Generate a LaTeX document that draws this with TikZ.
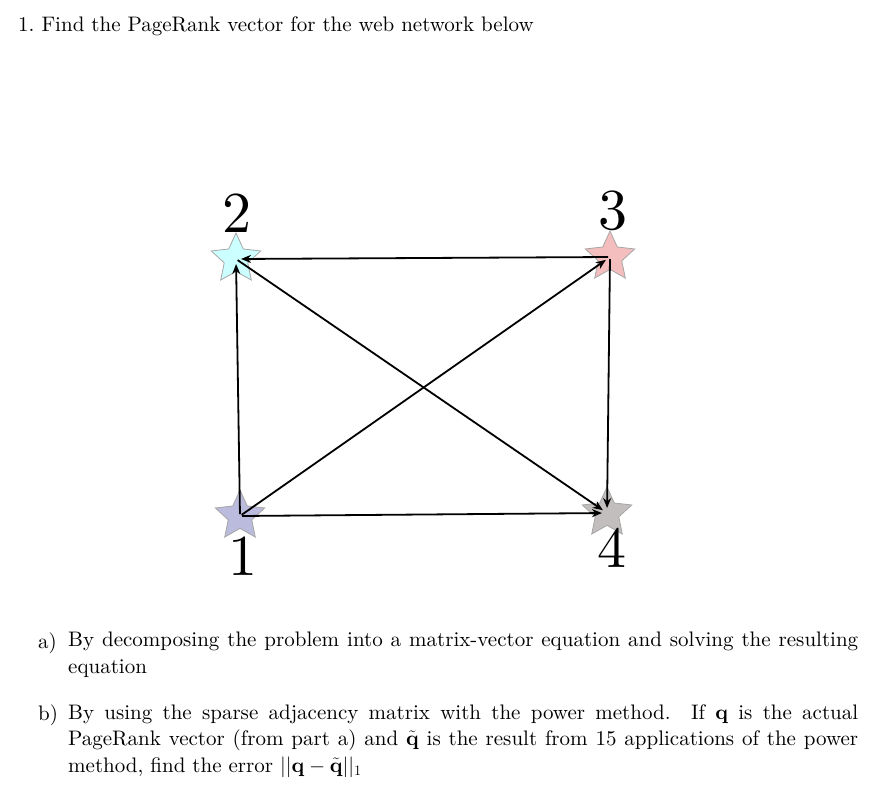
\documentclass[tikz,border=0pt]{standalone}
\usepackage{fontspec}
\setmainfont{lmroman10-regular.otf}[BoldFont=lmroman10-bold.otf,ItalicFont=lmroman10-italic.otf]
\usetikzlibrary{shapes.geometric,arrows.meta}
\definecolor{sone}{RGB}{187,187,221}
\definecolor{stwo}{RGB}{204,255,255}
\definecolor{sthree}{RGB}{244,190,190}
\definecolor{sfour}{RGB}{195,190,190}
\begin{document}
\begin{tikzpicture}[x=1pt,y=-1pt,
 st/.style={star,star points=5,star point ratio=2.1,minimum size=52pt,inner sep=0pt,draw=gray!70,line width=0.8pt},
 num/.style={font=\fontsize{58}{58}\selectfont,inner sep=0pt},
 ed/.style={line width=1.8pt,-{Stealth[length=10pt,width=8pt]},shorten >=5pt,shorten <=2pt},
 lab/.style={font=\fontsize{21}{26}\selectfont,anchor=base west,inner sep=0pt},
 txt/.style={font=\fontsize{21}{26.5}\selectfont,inner sep=0pt,anchor=north west,align=justify,text width=790pt}]
\useasboundingbox (0,0) rectangle (888,790);
\node[st,fill=stwo] (n2) at (236,259) {};
\node[st,fill=sthree] (n3) at (610,257) {};
\node[st,fill=sone] (n1) at (240,516) {};
\node[st,fill=sfour] (n4) at (607,513) {};
\node[num] (l2) at (237,213) {2};
\node[num] (l3) at (613,211) {3};
\node[num] (l1) at (243,556) {1};
\node[num] (l4) at (612,548) {4};
\draw[ed] (n1.center) -- (n2.center);
\draw[ed] (n1.center) -- (n3.center);
\draw[ed] (n1.center) -- (n4.center);
\draw[ed] (n3.center) -- (n2.center);
\draw[ed] (n2.center) -- (n4.center);
\draw[ed] (n3.center) -- (n4.center);
\node[lab] (t0) at (18,31) {1.\ Find the PageRank vector for the web network below};
\node[lab] (ta) at (38,648) {a)};
\node[txt] (tab) at (68,632) {By decomposing the problem into a matrix-vector equation and solving the resulting\linebreak equation};
\node[lab] (tb) at (38,720) {b)};
\node[txt] (tbb) at (68,704) {By using the sparse adjacency matrix with the power method.\ \ If $\mathbf{q}$ is the actual\linebreak PageRank vector (from part a) and $\tilde{\mathbf{q}}$ is the result from 15 applications of the power\linebreak method, find the error $||\mathbf{q}-\tilde{\mathbf{q}}||_1$};
\end{tikzpicture}
\end{document}
